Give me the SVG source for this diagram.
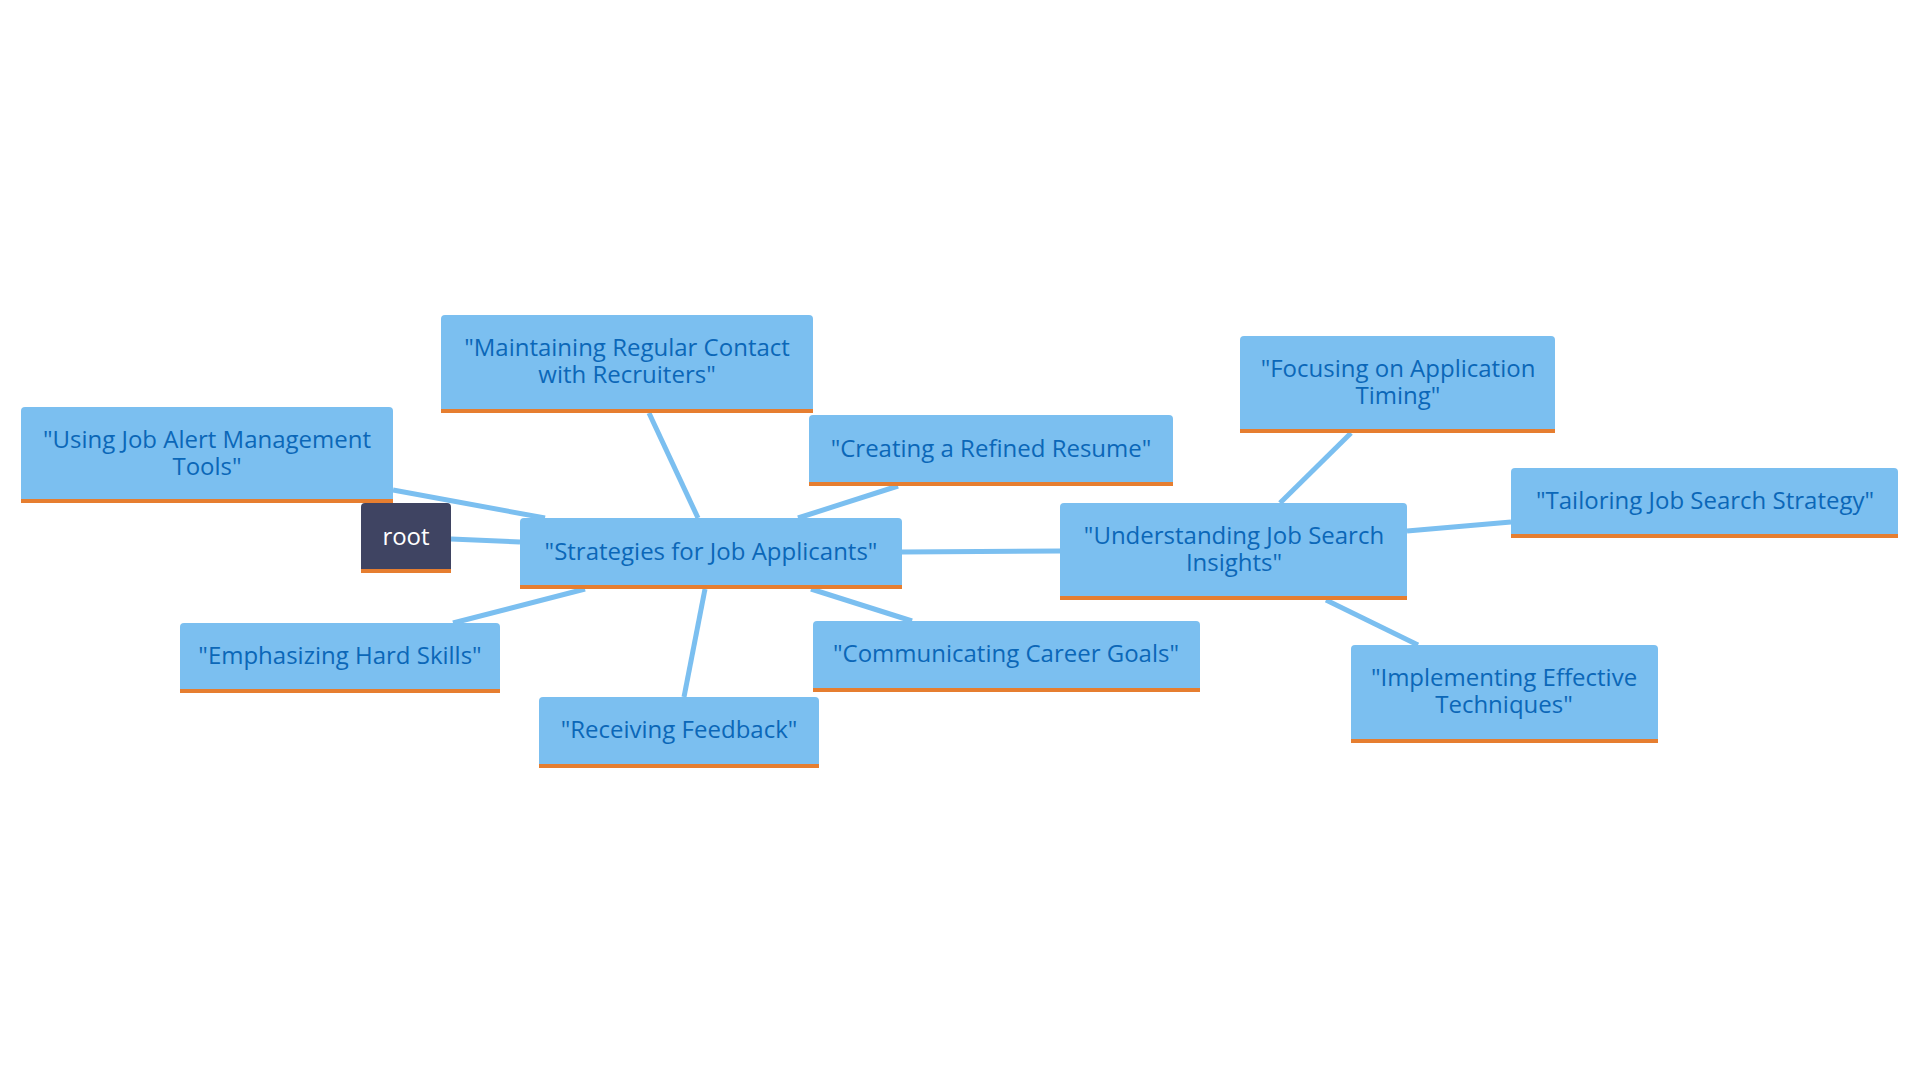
<svg xmlns="http://www.w3.org/2000/svg" width="1920" height="1080" viewBox="0 0 1920 1080">
<style>
.n{fill:#7bbff0}
.b{fill:#e67e30}
.t{font-family:"Open Sans","Liberation Sans",sans-serif;font-size:24px;fill:#0b67b8;text-anchor:middle}
.l{stroke:#7bbff0;stroke-width:5;fill:none}
</style>
<rect width="1920" height="1080" fill="#fff"/>
<g id="connectors">
<line class="l" x1="451" y1="539" x2="520" y2="542"/>
<line class="l" x1="393" y1="490" x2="545" y2="518"/>
<line class="l" x1="649" y1="413" x2="698" y2="518"/>
<line class="l" x1="898" y1="486" x2="798" y2="518"/>
<line class="l" x1="585" y1="589" x2="453" y2="623"/>
<line class="l" x1="705" y1="589" x2="684" y2="697"/>
<line class="l" x1="811" y1="589" x2="912" y2="621"/>
<line class="l" x1="902" y1="552" x2="1060" y2="551"/>
<line class="l" x1="1280" y1="503" x2="1351" y2="433"/>
<line class="l" x1="1407" y1="531" x2="1511" y2="522"/>
<line class="l" x1="1326" y1="600" x2="1418" y2="645"/>
</g>
<g id="root"><rect x="361" y="503" width="90" height="70" rx="4" fill="#3f4462"/><rect x="361" y="569" width="90" height="4" class="b"/><text x="406" y="545" class="t" style="fill:#fff">root</text></g>
<g id="strategies"><rect x="520" y="518" width="382" height="71" rx="4" class="n"/><rect x="520" y="585" width="382" height="4" class="b"/><text x="711" y="560" class="t">"Strategies for Job Applicants"</text></g>
<g id="maintaining"><rect x="441" y="315" width="372" height="98" rx="4" class="n"/><rect x="441" y="409" width="372" height="4" class="b"/><text x="627" y="356" class="t">"Maintaining Regular Contact</text><text x="627" y="383" class="t">with Recruiters"</text></g>
<g id="alert"><rect x="21" y="407" width="372" height="96" rx="4" class="n"/><rect x="21" y="499" width="372" height="4" class="b"/><text x="207" y="448" class="t">"Using Job Alert Management</text><text x="207" y="475" class="t">Tools"</text></g>
<g id="creating"><rect x="809" y="415" width="364" height="71" rx="4" class="n"/><rect x="809" y="482" width="364" height="4" class="b"/><text x="991" y="457" class="t">"Creating a Refined Resume"</text></g>
<g id="emphasizing"><rect x="180" y="623" width="320" height="70" rx="4" class="n"/><rect x="180" y="689" width="320" height="4" class="b"/><text x="340" y="664" class="t">"Emphasizing Hard Skills"</text></g>
<g id="receiving"><rect x="539" y="697" width="280" height="71" rx="4" class="n"/><rect x="539" y="764" width="280" height="4" class="b"/><text x="679" y="738" class="t">"Receiving Feedback"</text></g>
<g id="communicating"><rect x="813" y="621" width="387" height="71" rx="4" class="n"/><rect x="813" y="688" width="387" height="4" class="b"/><text x="1006" y="662" class="t">"Communicating Career Goals"</text></g>
<g id="understanding"><rect x="1060" y="503" width="347" height="97" rx="4" class="n"/><rect x="1060" y="596" width="347" height="4" class="b"/><text x="1234" y="544" class="t">"Understanding Job Search</text><text x="1234" y="571" class="t">Insights"</text></g>
<g id="focusing"><rect x="1240" y="336" width="315" height="97" rx="4" class="n"/><rect x="1240" y="429" width="315" height="4" class="b"/><text x="1398" y="377" class="t">"Focusing on Application</text><text x="1398" y="404" class="t">Timing"</text></g>
<g id="tailoring"><rect x="1511" y="468" width="387" height="70" rx="4" class="n"/><rect x="1511" y="534" width="387" height="4" class="b"/><text x="1705" y="509" class="t">"Tailoring Job Search Strategy"</text></g>
<g id="implementing"><rect x="1351" y="645" width="307" height="98" rx="4" class="n"/><rect x="1351" y="739" width="307" height="4" class="b"/><text x="1504" y="686" class="t">"Implementing Effective</text><text x="1504" y="713" class="t">Techniques"</text></g>
</svg>
